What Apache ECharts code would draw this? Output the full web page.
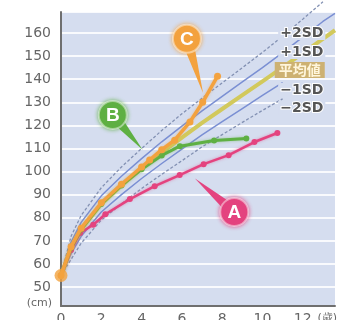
<!DOCTYPE html>
<html><head><meta charset="utf-8">
<script src="https://cdn.jsdelivr.net/npm/echarts@6/dist/echarts.min.js"></script>
<style>html,body{margin:0;padding:0;background:#fff}#c{width:344px;height:320px}</style>
</head><body><div id="c"></div>
<script>
// ---- data ----
const sdAges   = [0, 0.5, 1, 2, 3, 4, 5, 6, 7, 8, 9, 10, 11, 12, 13, 13.6];
const plus2SD  = [55, 72, 81, 93, 102, 110, 117.8, 125, 131.8, 138.4, 145, 151.6, 158.6, 166, 173.5, null];
const plus1SD  = [55, 69.5, 78, 89.5, 98, 105.6, 112.9, 119.7, 126.3, 132.6, 138.8, 145, 151.5, 158.2, 165, 168.5];
const meanLine = [55, 67, 75, 86, 94, 101.3, 108.2, 114.7, 121.1, 127.1, 133.1, 139.1, 145.1, 151.3, 157.5, 161.2];
const minus1SD = [55, 64.5, 72, 82.5, 90, 97, 103.5, 109.7, 115.9, 121.6, 127.3, 133, 138.5, null, null, null];
const minus2SD = [55, 62, 69, 79, 86, 92.7, 98.8, 104.7, 110.7, 116, 121.3, 126.5, 131.5, null, null, null];

const agesA = [0, 0.5, 0.95, 1.6, 2.2, 3.42, 4.65, 5.89, 7.08, 8.32, 9.6, 10.74];
const valsA = [55, 66, 73.4, 77, 81.5, 88.1, 93.7, 98.5, 103.2, 107.1, 112.8, 116.7];
const agesB = [0, 0.5, 1, 2, 3, 4, 5, 5.9, 7.6, 9.2];
const valsB = [55, 67, 75, 86, 94, 101, 107, 111, 113.5, 114.3];
const agesC = [0, 0.5, 1, 2, 3, 4, 4.4, 5, 5.64, 6.4, 7.03, 7.77];
const valsC = [55, 67.5, 75.5, 86.5, 94.5, 102, 105, 109.5, 113.6, 121.5, 130, 141.3];
const birth = [[0, 55]];

const sdLabels = ['+2SD', '+1SD', '平均値', '−1SD', '−2SD'];
const sdLabelPos = [[11.95, 160], [11.95, 151.8], [11.85, 144], [11.95, 135.3], [11.95, 127.5]];
const bubbleLetters = ['C', 'B', 'A'];
const bubbleCenters = [[6.25, 157.5], [2.57, 124.5], [8.6, 82.5]];
const bubbleTips = [[7.05, 134], [4.05, 109.5], [6.65, 97]];

// ---- build ----
const zip = (xs, ys) => xs.map((x, i) => [x, ys[i]]);
const colA = '#e4437f', colB = '#5fb043', colC = '#f3a23f';
const bubbleColors = [colC, colB, colA];

const chart = echarts.init(document.getElementById('c'), null, {renderer: 'canvas'});
const font = 'DejaVu Sans';
function refLine(data, color, width, type, z) {
  return {type: 'line', data, showSymbol: false, symbol: 'none', clip: false, z,
    lineStyle: {color, width, type}, silent: true, connectNulls: false};
}
chart.setOption({
  animation: false,
  grid: {left: 61, right: 9, top: 12, bottom: 14, show: true, backgroundColor: '#d5ddef', borderWidth: 0,
    containLabel: false, outerBoundsMode: 'none'},
  xAxis: {type: 'value', min: 0, max: 13.6, interval: 2,
    name: '(歳)', nameLocation: 'end', nameGap: -22,
    nameTextStyle: {fontFamily: font, fontSize: 11, color: '#666', verticalAlign: 'top', padding: [7, 0, 0, 0]},
    axisLine: {show: true, lineStyle: {color: '#6f6f6f', width: 2}},
    axisTick: {show: false},
    splitLine: {show: false},
    axisLabel: {fontFamily: font, fontSize: 14, color: '#666', margin: 6,
      formatter: v => (v % 2 === 0 && v <= 12) ? String(v) : ''}
  },
  yAxis: {type: 'value', min: 41.8, max: 169.1, splitNumber: 13, minInterval: 10, maxInterval: 10,
    name: '(cm)', nameLocation: 'start', nameGap: -3,
    nameTextStyle: {fontFamily: font, fontSize: 11, color: '#666', align: 'right', verticalAlign: 'middle', padding: [0, 9, 0, 0]},
    axisLine: {show: true, lineStyle: {color: '#6f6f6f', width: 2}},
    axisTick: {show: false},
    splitLine: {show: true, lineStyle: {color: 'rgba(255,255,255,0.85)', width: 2}},
    axisLabel: {fontFamily: font, fontSize: 14, color: '#666', margin: 10,
      formatter: v => (Math.abs(v % 10) < 1e-6 && v >= 50 && v <= 160) ? String(v) : ''}
  },
  series: [
    refLine(zip(sdAges, plus2SD), '#8391b3', 1.3, [3, 2], 3),
    refLine(zip(sdAges, plus1SD), '#7a8fd3', 1.5, 'solid', 3),
    refLine(zip(sdAges, minus1SD), '#7a8fd3', 1.5, 'solid', 3),
    refLine(zip(sdAges, minus2SD), '#8391b3', 1.3, [3, 2], 3),
    refLine(zip(sdAges, meanLine), '#d2c95c', 4, 'solid', 4),
    {type: 'line', data: zip(agesA, valsA), z: 5, symbol: 'circle', symbolSize: 6, showSymbol: true,
      itemStyle: {color: colA}, lineStyle: {color: colA, width: 2.5, shadowBlur: 3, shadowColor: 'rgba(228,67,127,0.5)'}},
    {type: 'line', data: zip(agesB, valsB), z: 6, symbol: 'circle', symbolSize: 6, showSymbol: true,
      itemStyle: {color: colB}, lineStyle: {color: colB, width: 3, shadowBlur: 3, shadowColor: 'rgba(95,176,67,0.5)'}},
    {type: 'line', data: zip(agesC, valsC), z: 7, symbol: 'circle', symbolSize: 7, showSymbol: true,
      itemStyle: {color: colC}, lineStyle: {color: colC, width: 3.5, shadowBlur: 3, shadowColor: 'rgba(243,162,63,0.5)'}},
    {type: 'scatter', data: birth, z: 8, symbolSize: 13, itemStyle: {color: colC}}
  ]
});

// annotations
const px = p => chart.convertToPixel({gridIndex: 0}, p);
const graphics = [];
sdLabels.forEach((t, i) => {
  const p = px(sdLabelPos[i]);
  const isMean = t === '平均値';
  graphics.push({type: 'text', z: 50, x: p[0], y: p[1],
    style: {text: t, align: 'center', verticalAlign: 'middle',
      fontFamily: isMean ? 'Noto Sans CJK JP' : font, fontSize: 14, fontWeight: 'bold',
      fill: isMean ? '#fff6dc' : '#555',
      stroke: isMean ? null : '#ffffff', lineWidth: isMean ? 0 : 2,
      backgroundColor: isMean ? '#cdb172' : '#d5ddef',
      padding: isMean ? [1, 4] : [0, 2]}});
});
bubbleLetters.forEach((L, i) => {
  const c = px(bubbleCenters[i]), t = px(bubbleTips[i]);
  const dx = t[0] - c[0], dy = t[1] - c[1], len = Math.hypot(dx, dy);
  const nx = -dy / len * 6, ny = dx / len * 6;
  const col = bubbleColors[i];
  graphics.push({type: 'polygon', z: 60,
    shape: {points: [[c[0] + nx, c[1] + ny], t, [c[0] - nx, c[1] - ny]]},
    style: {fill: col}});
  graphics.push({type: 'circle', z: 61, shape: {cx: c[0], cy: c[1], r: 14},
    style: {fill: col, stroke: 'rgba(255,255,255,0.45)', lineWidth: 2, shadowBlur: 4, shadowColor: col}});
  graphics.push({type: 'text', z: 62, x: c[0], y: c[1] + 1,
    style: {text: L, align: 'center', verticalAlign: 'middle', fontFamily: 'Liberation Sans',
      fontSize: 19, fontWeight: 'bold', fill: '#ffffff'}});
});
chart.setOption({graphic: graphics});
</script></body></html>
